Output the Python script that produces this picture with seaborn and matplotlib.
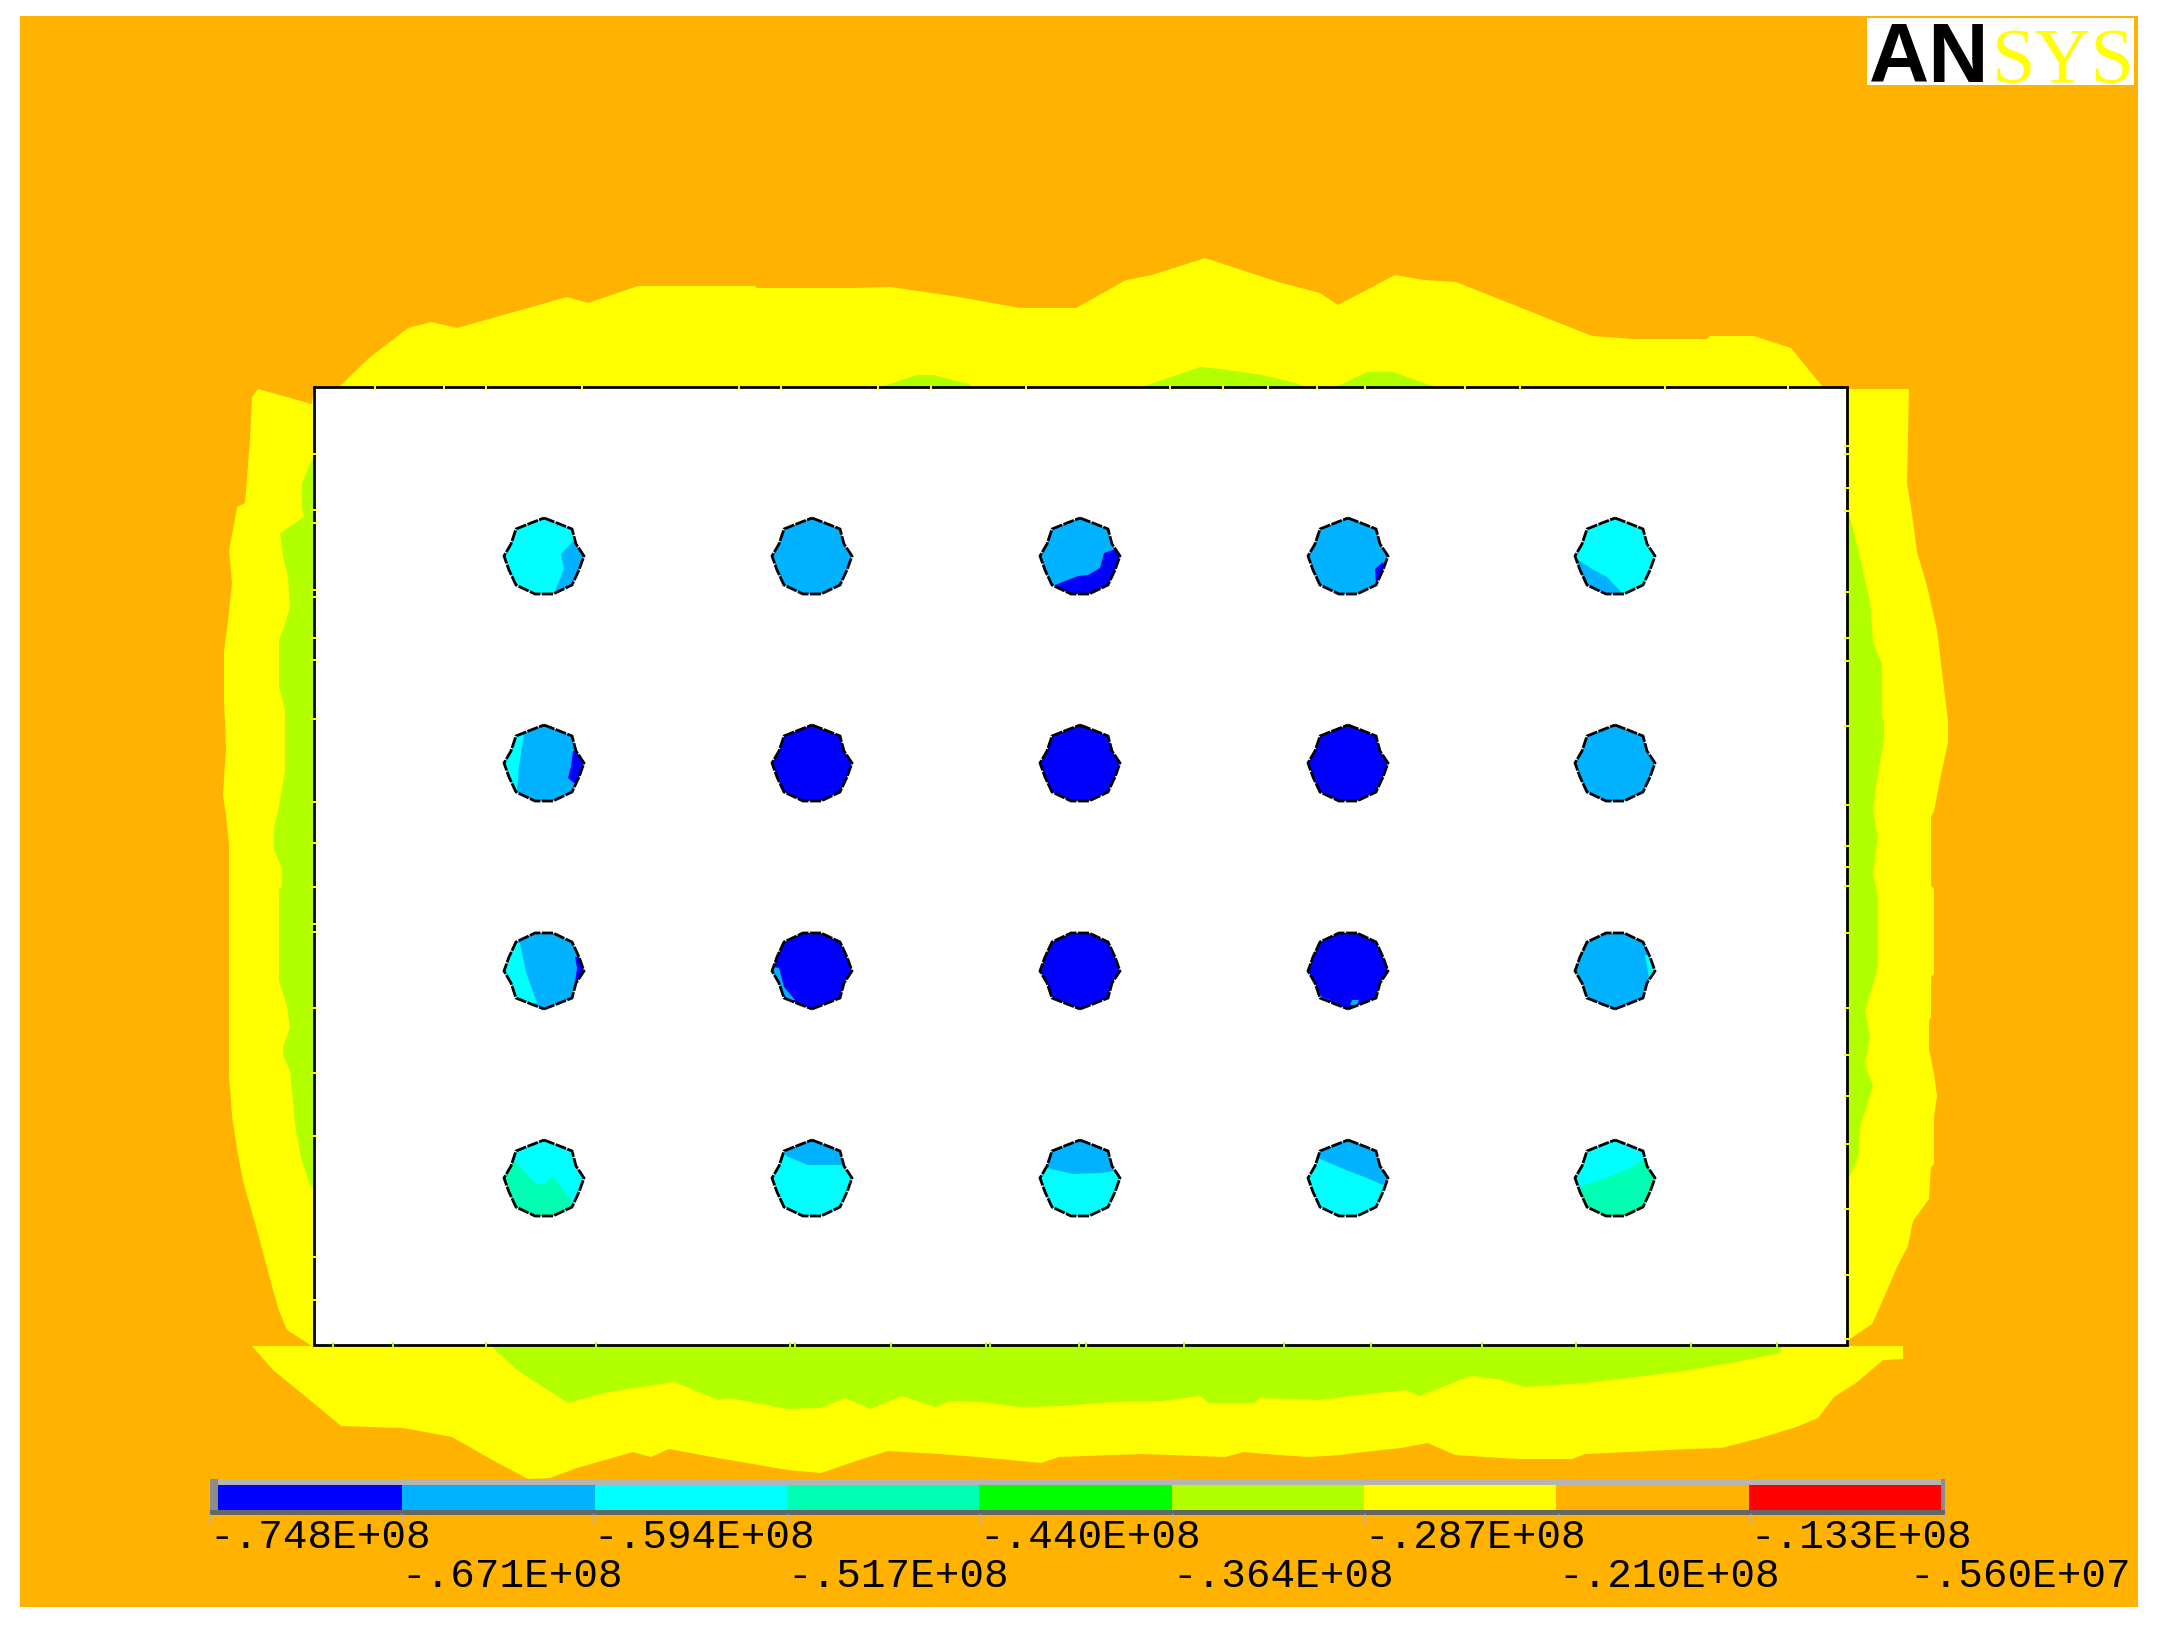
import matplotlib
matplotlib.use('Agg')
import matplotlib.pyplot as plt
from matplotlib.colors import ListedColormap
from matplotlib.patches import Polygon
import seaborn as sns

# contour band colours, low to high
band_colors = ['#0000FF', '#00B2FF', '#00FFFF', '#00FFB2', '#00FF00',
               '#B2FF00', '#FFFF00', '#FFB200', '#FF0000']
BLUE, SKY, CYAN, TEAL, GREEN, LIME, YEL, ORG, RED = band_colors

# legend labels, two staggered rows
labels_row1 = ['-.748E+08', '-.594E+08', '-.440E+08', '-.287E+08', '-.133E+08']
labels_row2 = ['-.671E+08', '-.517E+08', '-.364E+08', '-.210E+08', '-.560E+07']
labels_row1_x = [209, 593, 979, 1364, 1750]
labels_row2_x = [401, 787, 1172, 1558, 1909]
legend_ticks = [210, 402, 594, 788, 980, 1173, 1365, 1559, 1751, 1945]

# yellow band outline, clockwise from the top left of the plate
yellow_outline = [
    (340, 386), (369, 358), (408, 328), (431, 322), (457, 328), (567, 297), (588, 303),
    (638, 286), (755, 286), (757, 288), (854, 288), (891, 287), (959, 297), (1020, 308),
    (1076, 308), (1126, 280), (1152, 275), (1205, 258), (1278, 282), (1320, 293),
    (1338, 305), (1395, 275), (1424, 280), (1456, 282), (1592, 336), (1634, 339),
    (1707, 339), (1710, 336), (1754, 336), (1791, 348), (1822, 386), (1847, 389),
    (1909, 389), (1907, 483), (1912, 514), (1917, 552), (1927, 586), (1937, 630),
    (1943, 680), (1948, 721), (1948, 742), (1940, 780), (1934, 811), (1931, 817),
    (1931, 886), (1934, 889), (1934, 974), (1931, 977), (1931, 1017), (1929, 1021),
    (1929, 1049), (1934, 1074), (1937, 1096), (1934, 1117), (1934, 1164), (1931, 1167),
    (1929, 1199), (1913, 1221), (1908, 1246), (1897, 1267), (1882, 1302), (1872, 1324),
    (1850, 1339), (1847, 1346), (1903, 1346), (1903, 1359), (1883, 1360), (1856, 1383),
    (1834, 1397), (1818, 1418), (1796, 1427), (1764, 1437), (1737, 1444), (1721, 1448),
    (1688, 1449), (1628, 1452), (1585, 1454), (1572, 1459), (1518, 1459), (1455, 1455),
    (1428, 1443), (1401, 1448), (1363, 1452), (1341, 1455), (1309, 1457), (1265, 1454),
    (1244, 1452), (1225, 1457), (1141, 1454), (1059, 1457), (1041, 1463), (978, 1457),
    (940, 1454), (888, 1451), (859, 1460), (821, 1473), (788, 1470), (712, 1457),
    (669, 1449), (651, 1457), (633, 1452), (577, 1468), (550, 1478), (528, 1479),
    (496, 1462), (452, 1437), (403, 1428), (341, 1426), (322, 1410), (273, 1370),
    (252, 1346), (312, 1346), (287, 1330), (278, 1308), (270, 1279), (257, 1230),
    (243, 1181), (237, 1149), (232, 1116), (229, 1075), (229, 844), (226, 816),
    (223, 795), (226, 747), (224, 700), (224, 652), (228, 620), (232, 583), (229, 550),
    (233, 530), (237, 507), (245, 503), (250, 440), (252, 397), (258, 389), (312, 404),
    (314, 386)]

# yellow-green pieces against the plate
lime_left = [
    (314, 456), (312, 460), (302, 483), (302, 507), (304, 517), (280, 533), (283, 557),
    (288, 577), (290, 607), (283, 630), (279, 640), (279, 687), (285, 710), (285, 771),
    (279, 806), (274, 828), (274, 849), (282, 869), (282, 887), (279, 889), (279, 981),
    (287, 1006), (290, 1028), (283, 1047), (283, 1055), (290, 1071), (293, 1102),
    (296, 1132), (302, 1161), (310, 1185), (314, 1190)]
lime_right = [
    (1847, 509), (1848, 511), (1855, 536), (1865, 580), (1870, 602), (1873, 642),
    (1882, 664), (1882, 717), (1884, 721), (1884, 739), (1877, 780), (1873, 811),
    (1878, 836), (1873, 874), (1878, 896), (1878, 967), (1865, 1011), (1870, 1036),
    (1865, 1064), (1873, 1086), (1860, 1127), (1858, 1158), (1848, 1180), (1847, 1182)]
lime_bottom = [
    (490, 1345), (517, 1370), (568, 1403), (604, 1393), (647, 1386), (674, 1382),
    (718, 1400), (729, 1398), (788, 1409), (821, 1408), (845, 1398), (870, 1409),
    (902, 1396), (935, 1407), (951, 1401), (983, 1402), (1018, 1407), (1063, 1406),
    (1111, 1402), (1162, 1401), (1200, 1396), (1209, 1403), (1254, 1403), (1260, 1398),
    (1319, 1400), (1368, 1394), (1406, 1390), (1419, 1396), (1471, 1376), (1498, 1379),
    (1525, 1387), (1585, 1383), (1677, 1372), (1731, 1363), (1780, 1353), (1782, 1345)]
lime_top1 = [(880, 387), (917, 375), (933, 375), (969, 384), (972, 387)]
lime_top2 = [(1142, 387), (1200, 367), (1220, 369), (1262, 375), (1299, 384), (1303, 387)]
lime_top3 = [(1336, 387), (1367, 372), (1393, 372), (1435, 387)]

# plate edges and the breaks in its black border
plate_left, plate_right, plate_top, plate_bottom = 314, 1847, 387, 1345
breaks_top = [375, 444, 486, 582, 739, 781, 878, 931, 1026, 1170, 1223, 1268, 1317, 1365,
              1465, 1520, 1665, 1788]
breaks_bottom = [333, 393, 486, 596, 790, 795, 891, 986, 990, 1079, 1086, 1184, 1284, 1371,
                 1482, 1576, 1691, 1777]
breaks_left = [454, 510, 523, 590, 597, 638, 660, 719, 802, 843, 887, 924, 932, 1008, 1073,
               1136, 1257, 1300]
breaks_right = [446, 454, 488, 511, 592, 638, 661, 726, 805, 846, 867, 886, 933, 1008, 1055,
                1096, 1144, 1209, 1275, 1339]

# holes
hole_cx = [544, 812, 1080, 1348, 1615]
hole_cy = [556, 763, 971, 1178]
hole_shape = [(0, -38), (13, -33), (28, -27), (32, -12), (40, 0), (35, 14), (28, 29), (9, 38),
              (-9, 38), (-28, 29), (-35, 14), (-40, 0), (-33, -12), (-28, -27), (-13, -33)]
hole_base = [[CYAN, SKY, SKY, SKY, CYAN],
             [SKY, BLUE, BLUE, BLUE, SKY],
             [SKY, BLUE, BLUE, BLUE, SKY],
             [CYAN, CYAN, CYAN, CYAN, CYAN]]
# second colour inside a hole, (row, col): [(colour, outline), ...]
hole_parts = {
    (0, 0): [(SKY, [(33, -19), (17, -2), (20, 13), (11, 35), (42, 35), (42, -19)])],
    (0, 2): [(BLUE, [(36, -7), (24, -3), (20, 12), (8, 19), (-2, 20), (-25, 29), (-20, 41), (42, 41), (42, -7)])],
    (0, 3): [(BLUE, [(35, 6), (27, 13), (28, 29), (40, 29)])],
    (0, 4): [(SKY, [(-38, 3), (-23, 13), (-8, 21), (8, 38), (-38, 41)])],
    (1, 0): [(CYAN, [(-38, -30), (-20, -28), (-25, 3), (-27, 27), (-38, 27)]),
             (BLUE, [(29, -12), (27, 3), (24, 15), (30, 20), (40, 20), (40, -12)])],
    (2, 0): [(CYAN, [(-29, -28), (-24, -28), (-18, 1), (-7, 32), (-42, 32), (-42, -4)]),
             (BLUE, [(31, -14), (33, -3), (30, 19), (42, 19), (42, -14)])],
    (2, 1): [(SKY, [(-39, -4), (-33, -3), (-28, 16), (-17, 29), (-24, 29), (-41, 6)])],
    (2, 3): [(SKY, [(-34, 17), (-30, 28), (-18, 29), (-26, 26), (-30, 19)]),
             (SKY, [(4, 29), (11, 29), (9, 34), (2, 34)])],
    (2, 4): [(CYAN, [(30, -16), (34, 7), (42, 7), (42, -16)])],
    (3, 0): [(TEAL, [(-29, -17), (-9, 5), (0, 7), (9, -2), (27, 22), (29, 43), (-47, 43), (-47, 0)])],
    (3, 1): [(SKY, [(-26, -22), (-4, -13), (32, -13), (34, -43), (-33, -43)])],
    (3, 2): [(SKY, [(-33, -10), (-7, -4), (22, -5), (33, -7), (33, -43), (-33, -43)])],
    (3, 3): [(SKY, [(-30, -20), (-2, -8), (19, 0), (35, 7), (44, 0), (44, -43), (-30, -43)])],
    (3, 4): [(TEAL, [(-34, 8), (-9, 0), (15, -10), (31, -20), (43, -20), (43, 43), (-41, 43)])],
}

sns.set_theme(style='white')
W, H = 2166, 1630
fig = plt.figure(figsize=(W / 100, H / 100), dpi=100, facecolor='white')
ax = fig.add_axes([0, 0, 1, 1])
ax.set_xlim(0, W)
ax.set_ylim(H, 0)
ax.axis('off')


def box(x0, y0, x1, y1, color, z):
    ax.fill([x0, x1, x1, x0], [y0, y0, y1, y1], color=color, lw=0, zorder=z)


def poly(points, color, z):
    ax.add_patch(Polygon(points, closed=True, facecolor=color, edgecolor='none', zorder=z))


# background and contour bands
box(20, 16, 2138, 1607, ORG, 1)
poly(yellow_outline, YEL, 2)
for piece in [lime_left, lime_right, lime_bottom, lime_top1, lime_top2, lime_top3]:
    poly(piece, LIME, 3)

# plate
box(plate_left, plate_top, plate_right, plate_bottom, 'white', 4)
ax.plot([plate_left, plate_right, plate_right, plate_left, plate_left],
        [plate_top, plate_top, plate_bottom, plate_bottom, plate_top],
        color='black', lw=2.0, zorder=5, solid_joinstyle='miter')
for x in breaks_top:
    ax.plot([x, x], [plate_top - 2, plate_top + 2], color=YEL, lw=1.4, zorder=6)
for x in breaks_bottom:
    ax.plot([x, x], [plate_bottom - 2, plate_bottom + 2], color=LIME, lw=1.4, zorder=6)
for y in breaks_left:
    ax.plot([plate_left - 2, plate_left + 2], [y, y], color=YEL, lw=1.4, zorder=6)
for y in breaks_right:
    ax.plot([plate_right - 2, plate_right + 2], [y, y], color=YEL, lw=1.4, zorder=6)

# holes
for r, cy in enumerate(hole_cy):
    for c, cx in enumerate(hole_cx):
        flip = -1 if r == 2 else 1
        outline = [(cx + dx, cy + flip * dy) for dx, dy in hole_shape]
        base = Polygon(outline, closed=True, facecolor=hole_base[r][c], edgecolor='none', zorder=7)
        ax.add_patch(base)
        for color, part in hole_parts.get((r, c), []):
            p = Polygon([(cx + dx, cy + dy) for dx, dy in part], closed=True,
                        facecolor=color, edgecolor='none', zorder=8)
            ax.add_patch(p)
            p.set_clip_path(base)
        ax.add_patch(Polygon(outline, closed=True, fill=False, edgecolor='black', lw=2.0,
                             linestyle=(0, (4, 0.5)), zorder=9))

# legend strip
box(210, 1479, 1945, 1485, '#B4B4B4', 10)
box(210, 1479, 218, 1515, '#8C8C8C', 10)
box(1941, 1479, 1945, 1515, '#8C8C8C', 10)
box(210, 1510, 1945, 1515, '#666666', 10)
for x in legend_ticks:
    ax.plot([x, x], [1515, 1523], color='#B4B4B4', lw=1.2, zorder=10)

cax = fig.add_axes([210 / W, 1 - 1510 / H, (1941 - 210) / W, 25 / H])
sns.heatmap([list(range(9))], ax=cax, cmap=ListedColormap(band_colors), cbar=False,
            xticklabels=False, yticklabels=False, vmin=-0.5, vmax=8.5)
cax.set_zorder(2)
ax.set_zorder(1)
ax.patch.set_alpha(0)

# grey left end sits above the strip, so redraw it on the strip axes
cax.axvspan(0, 8 / (1941 - 210) * 9, color='#8C8C8C', lw=0)

for x, txt in zip(labels_row1_x, labels_row1):
    ax.text(x, 1548, txt, family='Liberation Mono', fontsize=29.5, color='black',
            ha='left', va='baseline', zorder=11)
for x, txt in zip(labels_row2_x, labels_row2):
    ax.text(x, 1587, txt, family='Liberation Mono', fontsize=29.5, color='black',
            ha='left', va='baseline', zorder=11)

# logo
box(1867, 18, 2134, 85, 'white', 12)
ax.text(1869, 82, 'AN', family='Liberation Sans', weight='bold', fontsize=60, color='black',
        ha='left', va='baseline', zorder=13)
ax.text(2063, 82, 'SYS', family='Liberation Serif', fontsize=56, color=YEL,
        ha='center', va='baseline', zorder=13)

fig.savefig('out.png', dpi=100, facecolor='white')
